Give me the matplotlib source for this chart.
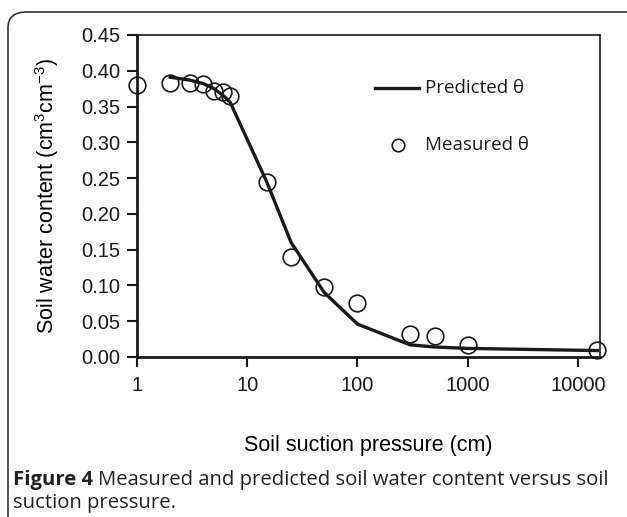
import matplotlib
matplotlib.use("Agg")
import matplotlib.pyplot as plt
from matplotlib.patches import FancyBboxPatch
from matplotlib.ticker import FixedLocator, NullLocator, FixedFormatter

plt.rcParams["mathtext.fontset"] = "custom"
plt.rcParams["mathtext.rm"] = "Liberation Sans"
plt.rcParams["mathtext.it"] = "Liberation Sans:italic"
plt.rcParams["mathtext.bf"] = "Liberation Sans:bold"

# Data
meas_x = [1, 2, 3, 4, 5, 6, 7, 15, 25, 50, 100, 300, 500, 1000, 15000]
meas_y = [0.380, 0.383, 0.383, 0.381, 0.372, 0.370, 0.365, 0.245, 0.140,
          0.098, 0.075, 0.032, 0.030, 0.017, 0.010]
pred_x = [2, 3, 4, 5, 6, 7, 15, 25, 50, 100, 300, 500, 1000, 15000]
pred_y = [0.391, 0.387, 0.382, 0.375, 0.366, 0.356, 0.245, 0.160, 0.090,
          0.046, 0.017, 0.014, 0.012, 0.009]
xticks = [1, 10, 100, 1000, 10000]
xtick_labels = ["1", "10", "100", "1000", "10000"]
yticks = [0.00, 0.05, 0.10, 0.15, 0.20, 0.25, 0.30, 0.35, 0.40, 0.45]

W, H = 627, 517
fig = plt.figure(figsize=(W / 100, H / 100), dpi=100)

# rounded border (right and bottom edges run off the picture)
border = FancyBboxPatch((8 / W, -0.2), 1.2, (H - 12) / H + 0.2,
                        boxstyle="round,pad=0,rounding_size=0.03",
                        transform=fig.transFigure, fill=False,
                        edgecolor="#333333", linewidth=1.2)
fig.patches.append(border)

L, R, T, B = 137, 600, 35, 357
ax = fig.add_axes([L / W, (H - B) / H, (R - L) / W, (B - T) / H])
ax.set_xscale("log")
ax.set_xlim(1, 10 ** 4.2)
ax.set_ylim(0, 0.45)

ax.plot(pred_x, pred_y, color="#1a1a1a", lw=2.4, zorder=3)
ax.plot(meas_x, meas_y, linestyle="none", marker="o", ms=12, mfc="none",
        mec="#1a1a1a", mew=1.2, zorder=4, clip_on=False)

ax.xaxis.set_major_locator(FixedLocator(xticks))
ax.xaxis.set_major_formatter(FixedFormatter(xtick_labels))
ax.xaxis.set_minor_locator(NullLocator())
ax.set_yticks(yticks)
ax.set_yticklabels([f"{v:.2f}" for v in yticks])

for s in ax.spines.values():
    s.set_linewidth(1.2)
    s.set_color("#1a1a1a")
ax.spines["left"].set_linewidth(2)
ax.spines["bottom"].set_linewidth(2)

ax.tick_params(axis="both", direction="out", length=7, width=1.5,
               labelsize=14.5, colors="#1a1a1a")
ax.tick_params(axis="y", pad=5)
ax.tick_params(axis="x", pad=7)
for lab in ax.get_xticklabels() + ax.get_yticklabels():
    lab.set_family("Liberation Sans")

ax.set_xlabel("Soil suction pressure (cm)", fontsize=15.5, family="Liberation Sans",
              labelpad=0)
ax.xaxis.set_label_coords(0.5, -(445 - B) / (B - T), transform=ax.transAxes)
ax.xaxis.label.set_va("center")
ax.set_ylabel("Soil water content (cm$^{3}$cm$^{\\mathrm{-3}}$)", fontsize=15.5,
              family="Liberation Sans")
ax.yaxis.set_label_coords(-(L - 47) / (R - L), 0.5, transform=ax.transAxes)
ax.yaxis.label.set_va("center")

# legend drawn manually in axes coordinates
ax.plot([0.515, 0.608], [0.835, 0.835], transform=ax.transAxes,
        color="#1a1a1a", lw=2.4, clip_on=False)
ax.text(0.621, 0.835, "Predicted θ", transform=ax.transAxes, va="center",
        ha="left", fontsize=13.5, family="Open Sans", color="#1a1a1a")
ax.plot([0.563], [0.658], transform=ax.transAxes, marker="o", ms=9,
        mfc="none", mec="#1a1a1a", mew=1.2, clip_on=False)
ax.text(0.621, 0.658, "Measured θ", transform=ax.transAxes, va="center",
        ha="left", fontsize=13.5, family="Open Sans", color="#1a1a1a")

# caption
cap_fs = 14.6
y1 = 1 - 480 / H
y2 = 1 - 503 / H
t1 = fig.text(13 / W, y1, "Figure 4", fontsize=cap_fs, fontweight="bold",
              family="Open Sans", va="center", ha="left", color="#222222")
fig.canvas.draw()
bb = t1.get_window_extent()
fig.text((bb.x1 + 5) / W, y1,
         "Measured and predicted soil water content versus soil",
         fontsize=cap_fs, family="Open Sans", va="center", ha="left", color="#222222")
fig.text(13 / W, y2, "suction pressure.", fontsize=cap_fs,
         family="Open Sans", va="center", ha="left", color="#222222")

fig.savefig("out.png", dpi=100)
